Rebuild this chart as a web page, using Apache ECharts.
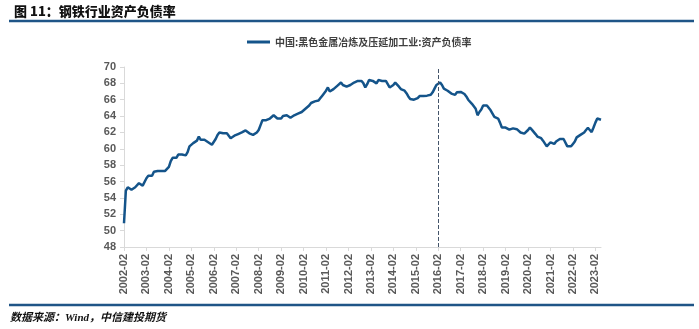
<!DOCTYPE html>
<html>
<head>
<meta charset="utf-8">
<script src="https://cdn.jsdelivr.net/npm/echarts@6/dist/echarts.min.js"></script>
<style>
html,body{margin:0;padding:0;background:#fff;}
#chart{width:699px;height:329px;}
</style>
</head>
<body>
<div id="chart"></div>
<script>
// Monthly series from 2002-02 through 2023-05
const startYear = 2002, startMonth = 2, monthCount = 256;
const seriesName = '中国:黑色金属冶炼及压延加工业:资产负债率';
const chartTitle = '图 11：钢铁行业资产负债率';
const sourceNote = '数据来源：Wind，中信建投期货';
const markDate = '2016-02';
const yTicks = [48, 50, 52, 54, 56, 58, 60, 62, 64, 66, 68, 70];

const debtRatio = [
  // 2002-02 .. 2003-01
  50.9, 54.9, 55.3, 55.5, 55.0, 54.8, 55.3, 55.4, 55.8, 55.6, 55.5, 55.5,
  // 2003-02 ..
  56.4, 56.7, 56.8, 56.7, 57.2, 57.3, 57.3, 57.2, 57.3, 57.2, 57.3, 57.4,
  // 2004-02 ..
  57.8, 58.5, 58.9, 58.9, 58.9, 59.3, 59.5, 59.3, 59.2, 59.2, 59.6, 60.3,
  // 2005-02 ..
  60.5, 60.7, 60.9, 61.0, 61.5, 61.1, 61.1, 61.1, 61.2, 60.8, 60.6, 60.5,
  // 2006-02 ..
  60.7, 61.2, 61.7, 62.0, 61.9, 61.9, 62.1, 61.9, 61.6, 61.3, 61.4, 61.6,
  // 2007-02 ..
  61.7, 61.8, 61.9, 62.0, 62.1, 62.25, 62.1, 61.9, 61.7, 61.7, 61.8, 62.0,
  // 2008-02 ..
  62.3, 62.9, 63.5, 63.5, 63.5, 63.5, 63.7, 63.9, 64.1, 63.9, 63.7, 63.5,
  // 2009-02 ..
  63.7, 64.0, 64.2, 64.1, 63.9, 63.8, 63.9, 64.1, 64.2, 64.3, 64.4, 64.5,
  // 2010-02 ..
  64.7, 64.9, 65.0, 65.3, 65.6, 65.7, 65.8, 65.9, 65.9, 66.2, 66.5, 66.8,
  // 2011-02 ..
  67.1, 67.5, 67.0, 67.1, 67.3, 67.5, 67.7, 67.9, 68.1, 67.8, 67.6, 67.6,
  // 2012-02 ..
  67.7, 67.8, 67.9, 68.1, 68.0, 68.3, 68.45, 68.3, 68.0, 67.5, 67.9, 68.4,
  // 2013-02 ..
  68.2, 68.3, 68.45, 68.0, 68.4, 68.2, 68.3, 68.4, 68.3, 68.2, 67.5, 67.6,
  // 2014-02 ..
  67.8, 68.1, 67.9, 67.6, 67.3, 67.2, 67.1, 66.8, 66.4, 66.1, 66.0, 66.0,
  // 2015-02 ..
  66.0, 66.2, 66.45, 66.4, 66.45, 66.25, 66.5, 66.5, 66.6, 66.9, 67.35, 67.8,
  // 2016-02 ..
  68.0, 68.1, 67.8, 67.35, 67.2, 67.1, 66.95, 66.75, 66.95, 66.6, 66.9, 67.0,
  // 2017-02 ..
  66.95, 66.85, 66.7, 66.4, 66.0, 65.8, 65.5, 65.2, 64.9, 64.1, 64.5, 64.8,
  // 2018-02 ..
  65.3, 65.5, 65.3, 65.1, 64.7, 64.3, 63.9, 63.7, 63.7, 63.2, 62.6, 62.75,
  // 2019-02 ..
  62.6, 62.6, 62.35, 62.5, 62.5, 62.45, 62.4, 62.2, 62.0, 61.8, 61.85, 61.9,
  // 2020-02 ..
  62.3, 62.6, 62.35, 62.55, 61.8, 61.5, 61.4, 61.3, 61.0, 60.8, 60.3, 60.4,
  // 2021-02 ..
  60.8, 60.7, 60.6, 60.9, 61.1, 61.2, 61.25, 61.2, 61.1, 60.3, 60.2, 60.3,
  // 2022-02 ..
  60.6, 60.9, 61.4, 61.6, 61.7, 61.8, 62.0, 62.3, 62.55, 62.3, 62.05, 62.6,
  // 2023-02 .. 2023-05
  63.2, 63.7, 63.65, 63.55
];

const categories = [];
for (let i = 0; i < monthCount; i++) {
  const t = (startMonth - 1) + i;
  const y = startYear + Math.floor(t / 12);
  const m = (t % 12) + 1;
  categories.push(y + '-' + (m < 10 ? '0' + m : m));
}

const chart = echarts.init(document.getElementById('chart'), null, {renderer: 'canvas'});
const latin = 'Liberation Sans, Arial, "Noto Sans CJK SC", sans-serif';
const cjk = '"Noto Sans CJK SC", "Liberation Sans", sans-serif';

chart.setOption({
  backgroundColor: '#ffffff',
  animation: false,
  title: [
    {
      text: chartTitle, left: 9, top: 0,
      textStyle: {fontFamily: cjk, fontSize: 13, fontWeight: 900, color: '#111'}
    },
    {
      text: sourceNote, left: 5, top: 308,
      textStyle: {fontFamily: '"Liberation Serif", "Noto Sans CJK SC", serif', fontSize: 11, fontWeight: 'bold', fontStyle: 'italic', color: '#111'}
    }
  ],
  graphic: [
    {type: 'line', shape: {x1: 9, y1: 21, x2: 694, y2: 21}, style: {stroke: '#1f5587', lineWidth: 2.5}},
    {type: 'line', shape: {x1: 9, y1: 305, x2: 694, y2: 305}, style: {stroke: '#1f5587', lineWidth: 2.5}}
  ],
  legend: {
    top: 32, left: 242,
    icon: 'rect', itemWidth: 23, itemHeight: 3,
    textStyle: {fontFamily: cjk, fontSize: 10, fontWeight: 'bold', color: '#404040'},
    data: [seriesName]
  },
  grid: {left: 124, right: 98, top: 67, bottom: 82, containLabel: false},
  xAxis: {
    type: 'category',
    data: categories,
    boundaryGap: false,
    axisLine: {lineStyle: {color: '#d9d9d9', width: 1}},
    axisTick: {show: true, interval: 11, length: 4, lineStyle: {color: '#d9d9d9'}},
    axisLabel: {
      interval: 11, rotate: 90, margin: 7,
      fontFamily: latin, fontSize: 11, fontWeight: 'bold', color: '#595959'
    },
    splitLine: {show: false}
  },
  yAxis: {
    type: 'value',
    min: yTicks[0], max: yTicks[yTicks.length - 1], interval: 2,
    axisLine: {show: true, lineStyle: {color: '#d9d9d9'}},
    axisTick: {show: true, length: 4, lineStyle: {color: '#d9d9d9'}},
    axisLabel: {margin: 8, fontFamily: latin, fontSize: 11, fontWeight: 'bold', color: '#595959'},
    splitLine: {show: false}
  },
  series: [{
    name: seriesName,
    type: 'line',
    data: debtRatio,
    symbol: 'none',
    lineStyle: {color: '#14548a', width: 2.5},
    itemStyle: {color: '#14548a'},
    markLine: {
      silent: true,
      symbol: ['none', 'none'],
      label: {show: false},
      lineStyle: {type: 'dashed', color: '#44546a', width: 1},
      data: [{xAxis: markDate}]
    }
  }]
});
</script>
</body>
</html>
